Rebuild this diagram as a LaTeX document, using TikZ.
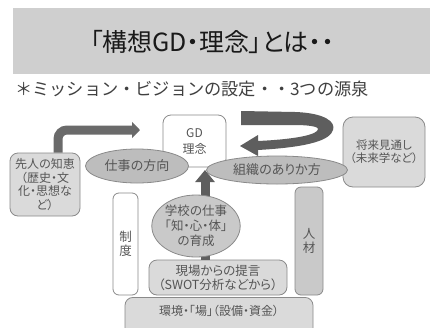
\documentclass[tikz,border=0pt]{standalone}
\usepackage{fontspec}
\newfontfamily\jp[RawFeature=+palt]{Noto Sans CJK JP}
\newfontfamily\jpw{Noto Sans CJK JP}
\usetikzlibrary{arrows.meta,shapes.geometric}
\definecolor{band}{HTML}{CFCFCF}
\definecolor{edgegray}{HTML}{8A8A8A}
\definecolor{txtgray}{HTML}{555555}
\definecolor{lightfill}{HTML}{DADADA}
\definecolor{ellfill}{HTML}{BDBDBD}
\definecolor{midfill}{HTML}{C9C9C9}
\definecolor{arrowdark}{HTML}{5E5E5E}
\definecolor{arrowmid}{HTML}{6A6A6A}
\tikzset{
  box/.style={draw=edgegray, line width=0.8pt, rounded corners=8pt, inner sep=0pt, align=center, text=txtgray},
  ell/.style={ellipse, draw=edgegray, line width=0.8pt, inner sep=0pt, align=center, text=txtgray},
  fatarrow/.style={line width=9pt},
}
\begin{document}
\begin{tikzpicture}[x=1pt,y=-1pt]
\useasboundingbox (0,0) rectangle (430,327);
\fill[white] (0,0) rectangle (430,327);

% title band
\node[fill=band, minimum width=417pt, minimum height=66pt, inner sep=0pt, anchor=north west] (band) at (13,8) {};
\node[font=\jp\fontsize{25}{28}\selectfont, text=black!90] (title) at (212,42) {「構想GD・理念」とは・・};
\node[font=\jpw\fontsize{17.2}{20}\selectfont, text=black!75, anchor=west, inner sep=0pt] (sub) at (15,89) {＊ミッション・ビジョンの設定・・3つの源泉};

% bottom boxes and arrows behind
\node[box, fill=lightfill, minimum width=188pt, minimum height=46pt, anchor=north] (kankyo) at (219,297) {};
\node[font=\jp\fontsize{12}{14}\selectfont, text=txtgray] (kankyotext) at (219,311) {環境・「場」（設備・資金）};

\node[box, fill=white, rounded corners=6pt, minimum width=25pt, minimum height=102pt, font=\jp\fontsize{12.5}{14}\selectfont] (seido) at (125.5,244) {制\\度};
\node[box, fill=midfill, rounded corners=6pt, minimum width=28pt, minimum height=108pt, font=\jp\fontsize{12.5}{14}\selectfont] (jinzai) at (309,241) {人\\材};

\node[box, fill=lightfill, minimum width=138pt, minimum height=35pt, font=\jp\fontsize{12.5}{14}\selectfont] (genba) at (218,277.5) {現場からの提言\\（SWOT分析などから）};

\node[box, fill=white, minimum width=63pt, minimum height=52pt, font=\jp\fontsize{12}{16}\selectfont] (gd) at (194.5,141) {GD\\理念};

% upward arrow
\coordinate (uptip) at (205,170);
\draw[fatarrow, draw=arrowdark, -{Triangle[length=12pt,width=19pt]}] ([xshift=-13pt]genba.north) -- (uptip);

\node[box, fill=lightfill, minimum width=70pt, minimum height=63pt, font=\jp\fontsize{12}{13.5}\selectfont] (senjin) at (45,184.5) {先人の知恵\\（歴史・文\\化・思想な\\ど）};
\node[box, fill=lightfill, rounded corners=10pt, minimum width=82pt, minimum height=70pt, font=\jp\fontsize{11.5}{13}\selectfont] (shorai) at (384,152) {将来見通し\\（未来学など）};

% elbow arrow
\coordinate (elbowtip) at (140,130);
\draw[fatarrow, draw=arrowmid, rounded corners=9pt, -{Triangle[length=8pt,width=16pt]}] ([xshift=13pt]senjin.north) |- (elbowtip);

% circular arrow
\fill[arrowdark] (241,111) -- (295,112) .. controls (325,113) and (336,122) .. (333,130)
  .. controls (330,140) and (310,147) .. (258,150) -- (258,156) -- (240,146) -- (258,135) -- (258,141)
  .. controls (300,139) and (318,134) .. (318,129)
  .. controls (318,126) and (305,125) .. (295,125) -- (241,125) -- cycle;

% ellipses
\node[ell, fill=ellfill, minimum width=103pt, minimum height=34pt, font=\jp\fontsize{13}{15}\selectfont] (shigoto) at (137,166) {仕事の方向};
\node[ell, fill=ellfill, minimum width=141pt, minimum height=28pt, font=\jp\fontsize{13}{15}\selectfont] (soshiki) at (277,170) {組織のありか方};
\node[ell, fill=midfill, minimum width=74pt, minimum height=62pt, font=\jp\fontsize{12.5}{15}\selectfont] (gakko) at (196,226) {学校の仕事\\「知・心・体」\\の育成};
\end{tikzpicture}
\end{document}
